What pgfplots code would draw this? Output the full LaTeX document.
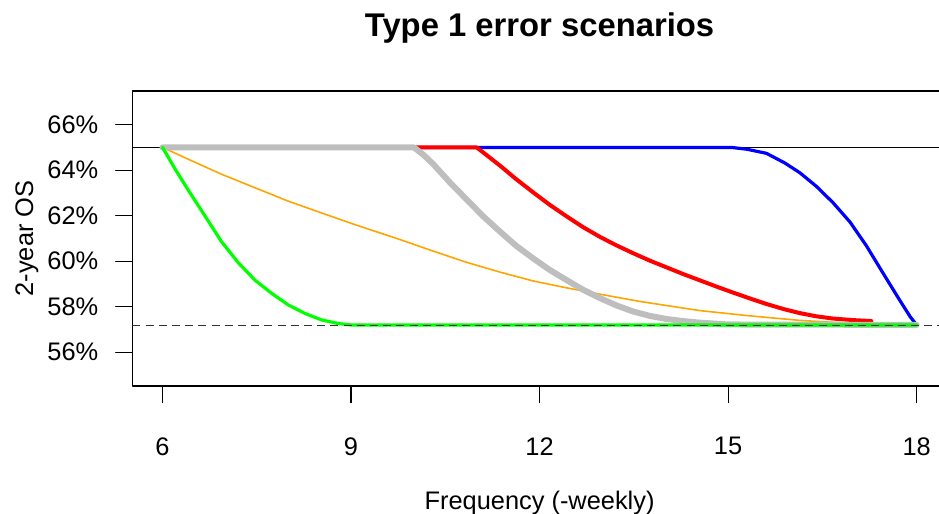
\documentclass[border=0pt]{standalone}
\usepackage{fontspec}
\setmainfont{Liberation Sans}
\usepackage{pgfplots}
\pgfplotsset{compat=1.18}
\definecolor{rgrey}{RGB}{190,190,190}
\definecolor{rorange}{RGB}{255,165,0}
\definecolor{rgreen}{RGB}{0,255,0}
\definecolor{rblue}{RGB}{0,0,255}
\definecolor{rred}{RGB}{255,0,0}
\begin{document}
\begin{tikzpicture}
\begin{axis}[
  scale only axis, width=407.3pt, height=147.5pt,
  xmin=5.52, xmax=18.48, ymin=54.52, ymax=67.48,
  axis line style={line width=0.6pt, black},
  xtick={6,9,12,15,18}, xticklabels={6,9,12,15,18},
  ytick={56,58,60,62,64,66},
  yticklabels={56\%,58\%,60\%,62\%,64\%,66\%},
  xtick pos=bottom, ytick pos=left, tick align=outside,
  major tick length=8.35pt,
  tick style={line width=0.6pt, black},
  /pgf/number format/assume math mode=true,
  ticklabel style={font=\fontsize{12.7}{15}\selectfont, inner sep=0pt},
  yticklabel style={anchor=east, xshift=-8.5pt},
  xticklabel style={anchor=north, yshift=-5.5pt},
  xticklabel shift=11.65pt,
  title={Type 1 error scenarios},
  title style={at={(axis description cs:0.5,1.143)}, anchor=base, font=\bfseries\fontsize{16.4}{19}\selectfont},
  xlabel={Frequency (-weekly)},
  xlabel style={at={(axis description cs:0.5,-0.418)}, anchor=base, font=\fontsize{12.7}{15}\selectfont},
  ylabel={2-year OS},
  ylabel style={at={(axis description cs:-0.122,0.5)}, anchor=base, font=\fontsize{12.7}{15}\selectfont},
  line join=round, line cap=round,
]
\coordinate (SW) at (rel axis cs:0,0);
\coordinate (NE) at (rel axis cs:1,1);
% reference line at 65%
\addplot[black, line width=0.6pt, line cap=butt] coordinates {(5.52,65) (18.48,65)};
% blue
\addplot[rblue, line width=1.6pt] coordinates {
(6,65) (15.05,65) (15.3,64.92) (15.61,64.74) (15.9,64.32) (16.14,63.89) (16.4,63.3) (16.67,62.57)
(16.94,61.72) (17.2,60.68) (17.46,59.5) (17.73,58.29) (17.9,57.55) (18,57.2)};
% red
\addplot[rred, line width=2pt] coordinates {
(6,65) (11,65) (11.37,64.2) (11.63,63.6) (11.9,63.02) (12.16,62.48) (12.43,61.97) (12.69,61.5) (12.96,61.07)
(13.22,60.7) (13.49,60.35) (13.75,60.03) (14.02,59.73) (14.28,59.44) (14.55,59.16) (14.82,58.88) (15.08,58.62)
(15.35,58.36) (15.61,58.12) (15.88,57.9) (16.14,57.72) (16.4,57.58) (16.67,57.48) (17.0,57.41) (17.28,57.37)};
% orange
\addplot[rorange, line width=0.8pt] coordinates {
(6,65) (6.41,64.48) (6.94,63.82) (7.47,63.23) (8.0,62.64) (8.53,62.12) (9.06,61.61) (9.78,60.95) (10.3,60.45)
(10.84,59.95) (11.37,59.52) (11.9,59.13) (12.43,58.83) (12.96,58.55) (13.6,58.23) (14.55,57.83) (15.34,57.6) (16.14,57.4)
(17.0,57.26) (18,57.17)};
% grey
\addplot[rgrey, line width=3pt] coordinates {
(6,65) (10,65) (10.15,64.68) (10.31,64.26) (10.57,63.47) (10.84,62.71) (11.10,61.98) (11.37,61.3) (11.63,60.67)
(11.90,60.12) (12.16,59.62) (12.43,59.17) (12.69,58.75) (12.96,58.38) (13.22,58.06) (13.49,57.79)
(13.75,57.6) (14.02,57.46) (14.28,57.37) (14.55,57.3) (15,57.22) (18,57.2)};
% green
\addplot[rgreen, line width=1.6pt] coordinates {
(6,65) (6.2,64.05) (6.41,63.12) (6.68,61.97) (6.94,60.85) (7.21,59.92) (7.47,59.17) (7.74,58.58)
(8.0,58.08) (8.27,57.7) (8.53,57.42) (8.8,57.26) (9,57.2) (18,57.2)};
% dashed reference line
\addplot[black!80, line width=0.6pt, dash pattern=on 4pt off 2.6pt, line cap=butt] coordinates {(5.52,57.17) (18.48,57.17)};
\end{axis}
\pgfresetboundingbox
\useasboundingbox ([xshift=-66.2pt,yshift=-64pt]SW) rectangle ([xshift=-3.9pt,yshift=45.5pt]NE);
\end{tikzpicture}
\end{document}
